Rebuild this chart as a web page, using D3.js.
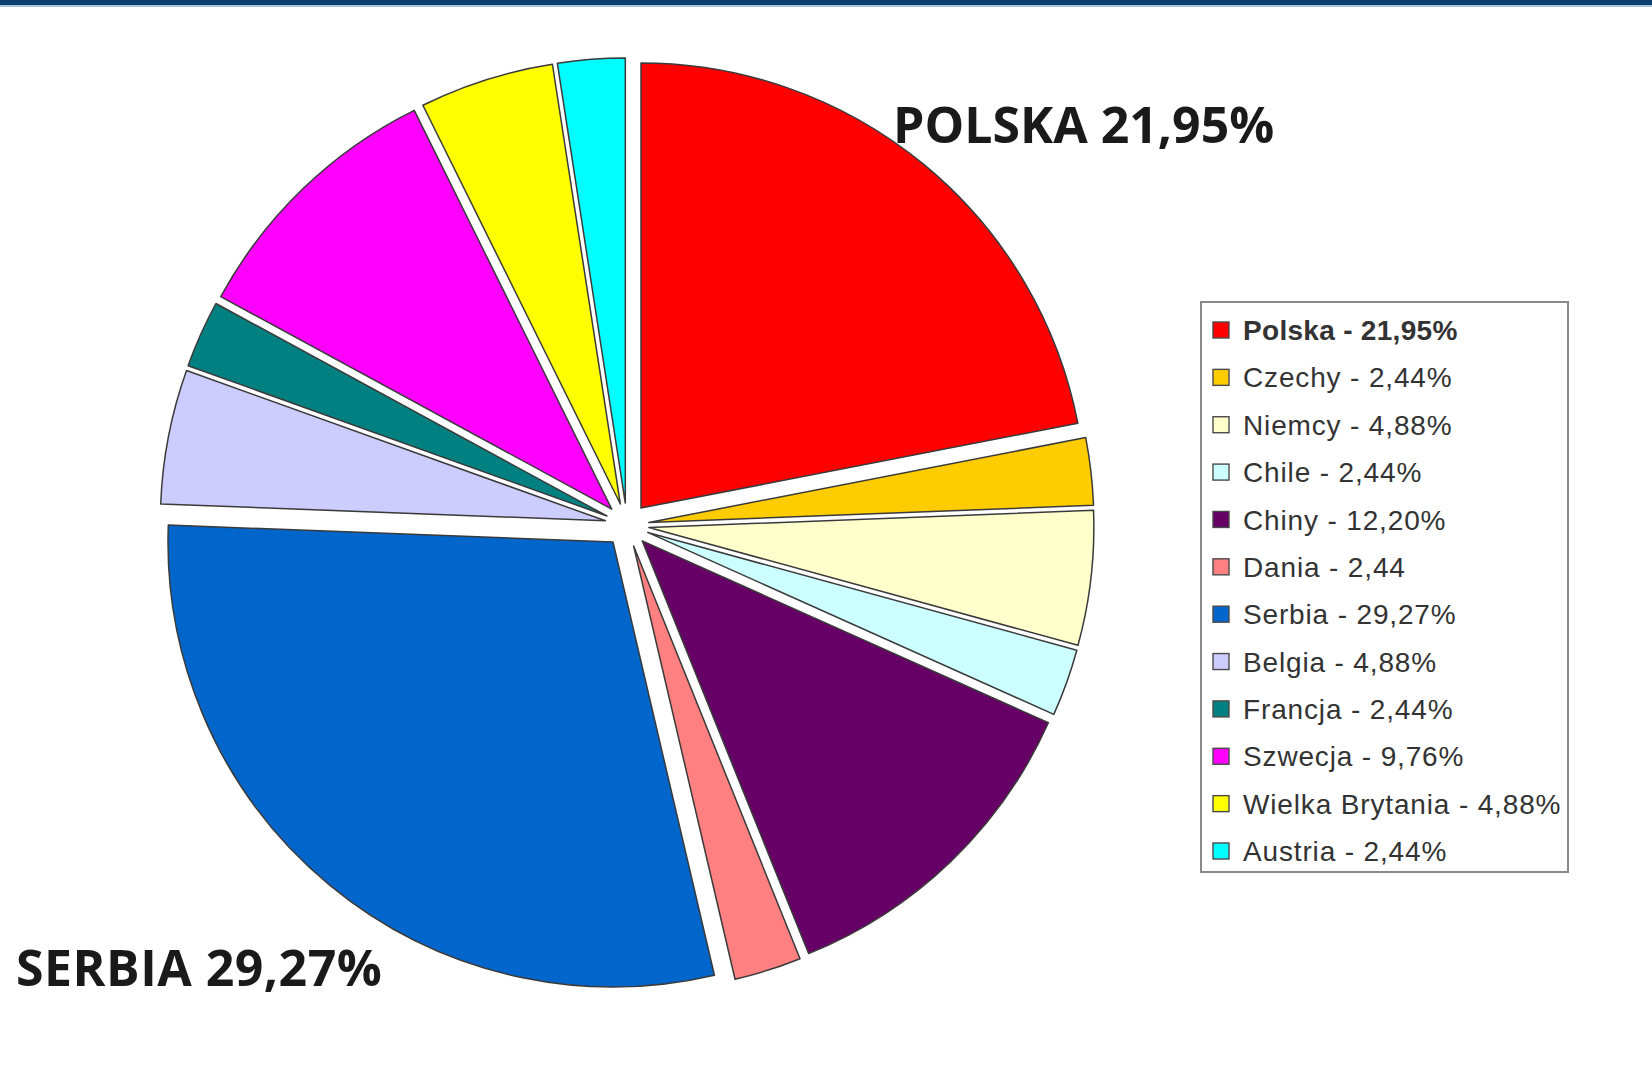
<!DOCTYPE html>
<html>
<head>
<meta charset="utf-8">
<script src="https://cdn.jsdelivr.net/npm/d3@7"></script>
<style>
  html, body { margin: 0; padding: 0; background: #ffffff; }
  svg { display: block; }
</style>
</head>
<body>
<svg id="chart" width="1652" height="1072"></svg>
<script>
const categories = ["Polska", "Czechy", "Niemcy", "Chile", "Chiny", "Dania", "Serbia", "Belgia", "Francja", "Szwecja", "Wielka Brytania", "Austria"];
const values = [21.95, 2.44, 4.88, 2.44, 12.20, 2.44, 29.27, 4.88, 2.44, 9.76, 4.88, 2.44];
const legendLabels = ["Polska - 21,95%", "Czechy - 2,44%", "Niemcy - 4,88%", "Chile - 2,44%", "Chiny - 12,20%", "Dania - 2,44", "Serbia - 29,27%", "Belgia - 4,88%", "Francja - 2,44%", "Szwecja - 9,76%", "Wielka Brytania - 4,88%", "Austria - 2,44%"];
const colors = ["#ff0000", "#ffcc00", "#ffffcc", "#ccffff", "#660066", "#ff8080", "#0066cc", "#ccccff", "#008080", "#ff00ff", "#ffff00", "#00ffff"];
const calloutLabels = ["POLSKA 21,95%", "SERBIA 29,27%"];

const svg = d3.select("#chart");
const W = 1652, H = 1072;

// top banner bar
svg.append("rect").attr("x", 0).attr("y", 0).attr("width", W).attr("height", 5).attr("fill", "#0b3f70");
svg.append("rect").attr("x", 0).attr("y", 5).attr("width", W).attr("height", 2).attr("fill", "#a9c3dc");

const cx = 627, cy = 525, R = 445, explode = 22;

const pie = d3.pie().sort(null).value(d => d.v);
const arc = d3.arc().innerRadius(0).outerRadius(R);
const data = pie(categories.map((c, i) => ({ c, v: values[i], col: colors[i] })));

const g = svg.append("g").attr("transform", `translate(${cx},${cy})`);
g.selectAll("path.slice")
  .data(data)
  .join("path")
  .attr("class", "slice")
  .attr("d", arc)
  .attr("transform", d => {
    const m = (d.startAngle + d.endAngle) / 2;
    return `translate(${explode * Math.sin(m)},${-explode * Math.cos(m)})`;
  })
  .attr("fill", d => d.data.col)
  .attr("stroke", "#3a3a3a")
  .attr("stroke-width", 1.5)
  .attr("stroke-linejoin", "round");

// callout labels
svg.append("text")
  .attr("x", 893).attr("y", 143)
  .attr("font-family", "'Open Sans', sans-serif")
  .attr("font-weight", 700)
  .attr("font-size", 50)
  .attr("fill", "#1a1a1a")
  .text(calloutLabels[0]);
svg.append("text")
  .attr("x", 16).attr("y", 986)
  .attr("font-family", "'Open Sans', sans-serif")
  .attr("font-weight", 700)
  .attr("font-size", 50)
  .attr("letter-spacing", 0.5)
  .attr("fill", "#1a1a1a")
  .text(calloutLabels[1]);

// legend
const lx = 1201, ly = 302, lw = 367, lh = 570;
svg.append("rect")
  .attr("x", lx).attr("y", ly).attr("width", lw).attr("height", lh)
  .attr("fill", "#ffffff").attr("stroke", "#8a8a8a").attr("stroke-width", 2);

const rowY = d3.scaleLinear().domain([0, categories.length - 1]).range([330, 851]);
const leg = svg.append("g");
const rows = leg.selectAll("g.row").data(categories).join("g").attr("class", "row")
  .attr("transform", (d, i) => `translate(${lx}, ${rowY(i)})`);
rows.append("rect")
  .attr("x", 12).attr("y", -8).attr("width", 16).attr("height", 16)
  .attr("fill", (d, i) => colors[i])
  .attr("stroke", "#4a4a4a").attr("stroke-width", 1.4);
rows.append("text")
  .attr("x", 42).attr("y", 0).attr("dy", "0.36em")
  .attr("font-family", "'Liberation Sans', Arial, sans-serif")
  .attr("font-size", 28)
  .attr("font-weight", (d, i) => i === 0 ? 700 : 400)
  .attr("fill", "#333333")
  .attr("letter-spacing", (d, i) => i === 0 ? 0.3 : 0.85)
  .text((d, i) => legendLabels[i]);
</script>
</body>
</html>
